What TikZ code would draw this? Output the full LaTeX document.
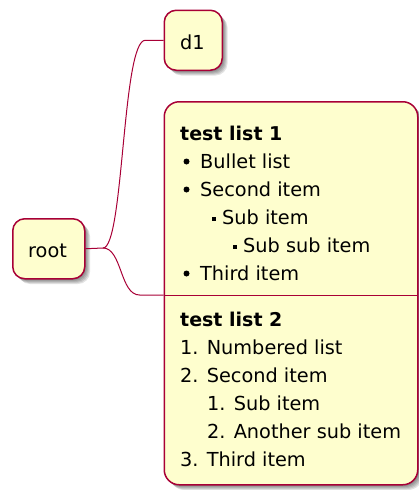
\documentclass[tikz,border=0pt]{standalone}
\usepackage{fontspec}
\setmainfont{DejaVu Sans}
\definecolor{boxfill}{HTML}{FEFECE}
\definecolor{boxline}{HTML}{A80036}
\newcommand\myshadow[5]{%
  \foreach \s in {2,3,4,5,6}{%
    \fill[black, opacity=0.11, rounded corners=#5pt] (#1+\s,#2+\s) rectangle (#3+\s,#4+\s);}}
\begin{document}
\begin{tikzpicture}[x=1pt,y=-1pt,
  txt/.style={anchor=base west, inner sep=0pt, font=\fontsize{19.3}{28}\selectfont},
  headtxt/.style={anchor=base west, inner sep=0pt, font=\fontsize{19}{28}\selectfont\bfseries},
  card/.style={draw=boxline, fill=boxfill, line width=1.5pt, inner sep=0pt, anchor=north west},
  link/.style={draw=boxline, line width=1pt},
  dot/.style={fill=black, circle, inner sep=0pt, minimum size=6pt},
  sq/.style={fill=black, rectangle, inner sep=0pt, minimum size=4pt}]
\useasboundingbox (0,0) rectangle (418,490);
% shadows
\myshadow{12}{218}{84}{278}{12}
\myshadow{163.5}{9.5}{221.5}{69.5}{12}
\myshadow{163.5}{101}{417}{484}{15}
% boxes
\node[card, rounded corners=12pt, minimum width=72pt, minimum height=60pt] (root) at (12,218) {};
\node[card, rounded corners=12pt, minimum width=58pt, minimum height=60pt] (d1) at (163.5,9.5) {};
\node[card, rounded corners=15pt, minimum width=253.5pt, minimum height=383pt] (lists) at (163.5,101) {};
% connectors
\coordinate (j) at (103,248);
\coordinate (sepL) at (163.5,295);
\coordinate (sepR) at (417,295);
\draw[link] (root.east) -- (j) .. controls (124,248) and (122,39.5) .. ([xshift=-18pt]d1.west) -- (d1.west);
\draw[link] (j) .. controls (122,248) and (120,295) .. ([xshift=-24pt]sepL) -- (sepL);
\draw[link] (sepL) -- (sepR);
% texts
\node[txt] (troot) at (28,257) {root};
\node[txt] (td1) at (180,49) {d1};
\node[headtxt] (h1) at (180,140) {test list 1};
\node[dot] (b1) at (186.5,161.5) {};
\node[txt] (l1) at (200,168) {Bullet list};
\node[dot] (b2) at (186.5,189.5) {};
\node[txt] (l2) at (200,196) {Second item};
\node[sq] (b3) at (214,219) {};
\node[txt] (l3) at (222,224) {Sub item};
\node[sq] (b4) at (235,247) {};
\node[txt] (l4) at (243,252) {Sub sub item};
\node[dot] (b5) at (186.5,273.5) {};
\node[txt] (l5) at (200,280) {Third item};
\node[headtxt] (h2) at (180,326) {test list 2};
\node[txt] (n1) at (180,354) {1. Numbered list};
\node[txt] (n2) at (180,382) {2. Second item};
\node[txt] (n3) at (207,410) {1. Sub item};
\node[txt] (n4) at (207,438) {2. Another sub item};
\node[txt] (n5) at (180,466) {3. Third item};
\end{tikzpicture}
\end{document}
